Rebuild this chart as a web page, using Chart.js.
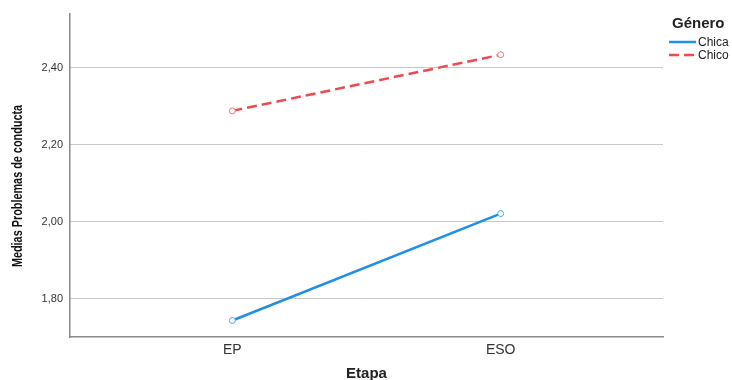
<!DOCTYPE html>
<html>
<head>
<meta charset="utf-8">
<script src="https://cdn.jsdelivr.net/npm/chart.js@4"></script>
<style>
  html, body { margin: 0; padding: 0; background: #fff; }
  #wrap { width: 732px; height: 380px; }
</style>
</head>
<body>
<div id="wrap"><canvas id="chart" width="732" height="380"></canvas></div>
<script>
const etapas = ['EP', 'ESO'];
const chica = [1.743, 2.021];
const chico = [2.288, 2.434];
const yTicks = [1.8, 2.0, 2.2, 2.4];
const yTitle = 'Medias Problemas de conducta';

// legend + condensed y title drawn by hand, SPSS style
const spssExtras = {
  id: 'spssExtras',
  afterDraw(chart) {
    const ctx = chart.ctx;
    ctx.save();
    ctx.fillStyle = '#222';
    ctx.font = 'bold 15px "Liberation Sans", Arial, sans-serif';
    ctx.textBaseline = 'middle';
    ctx.fillText('Género', 672, 24);
    ctx.font = '12px "Liberation Sans", Arial, sans-serif';
    chart.data.datasets.forEach((ds, i) => {
      const y = 42 + i * 13;
      ctx.strokeStyle = ds.borderColor;
      ctx.lineWidth = 2.5;
      ctx.setLineDash(ds.borderDash || []);
      ctx.beginPath();
      ctx.moveTo(669, y);
      ctx.lineTo(696, y);
      ctx.stroke();
      ctx.setLineDash([]);
      ctx.fillStyle = '#222';
      ctx.fillText(ds.label, 698, y + 1);
    });
    ctx.restore();

    // narrow bold axis title
    ctx.save();
    ctx.translate(18, 186);
    ctx.rotate(-Math.PI / 2);
    ctx.scale(0.775, 1);
    ctx.font = 'bold 14px "Liberation Sans", Arial, sans-serif';
    ctx.fillStyle = '#111';
    ctx.textAlign = 'center';
    ctx.textBaseline = 'middle';
    ctx.fillText(yTitle, 0, 0);
    ctx.restore();
  }
};

new Chart(document.getElementById('chart'), {
  type: 'line',
  data: {
    datasets: [
      {
        label: 'Chica',
        data: chica.map((v, i) => ({ x: i, y: v })),
        borderColor: '#1e90e6',
        borderWidth: 2.5,
        pointRadius: 3,
        pointBorderWidth: 1,
        pointBackgroundColor: '#fff',
        pointBorderColor: '#4aa8ee'
      },
      {
        label: 'Chico',
        data: chico.map((v, i) => ({ x: i, y: v })),
        borderColor: '#ec4a4e',
        borderDash: [10, 5],
        borderWidth: 2.5,
        pointRadius: 3,
        pointBorderWidth: 1,
        pointBackgroundColor: '#fff',
        pointBorderColor: '#f07578'
      }
    ]
  },
  options: {
    responsive: false,
    animation: false,
    layout: { padding: { top: 13, right: 69, left: 0, bottom: 0 } },
    plugins: { legend: { display: false }, tooltip: { enabled: false } },
    scales: {
      x: {
        type: 'linear',
        min: -0.605,
        max: 1.605,
        afterBuildTicks: s => { s.ticks = etapas.map((_, i) => ({ value: i })); },
        afterFit: s => { s.height = 43; },
        grid: { display: false, drawTicks: false },
        border: { color: '#8a8a8a', width: 1.5 },
        ticks: {
          callback: v => etapas[v],
          color: '#333',
          padding: 5,
          font: { family: '"Liberation Sans", Arial, sans-serif', size: 14 }
        },
        title: {
          display: true,
          text: 'Etapa',
          color: '#222',
          padding: { top: 4, bottom: -3 },
          font: { family: '"Liberation Sans", Arial, sans-serif', size: 15, weight: 'bold' }
        }
      },
      y: {
        min: 1.70,
        max: 2.541,
        afterBuildTicks: s => { s.ticks = yTicks.map(v => ({ value: v })); },
        afterFit: s => { s.width = 70; },
        grid: { color: '#c8c8c8', lineWidth: 1, drawTicks: false },
        border: { color: '#8a8a8a', width: 1.5 },
        ticks: {
          callback: v => v.toFixed(2).replace('.', ','),
          color: '#333',
          padding: 7,
          font: { family: '"Liberation Sans", Arial, sans-serif', size: 11 }
        },
        title: { display: false }
      }
    }
  },
  plugins: [spssExtras]
});
</script>
</body>
</html>
